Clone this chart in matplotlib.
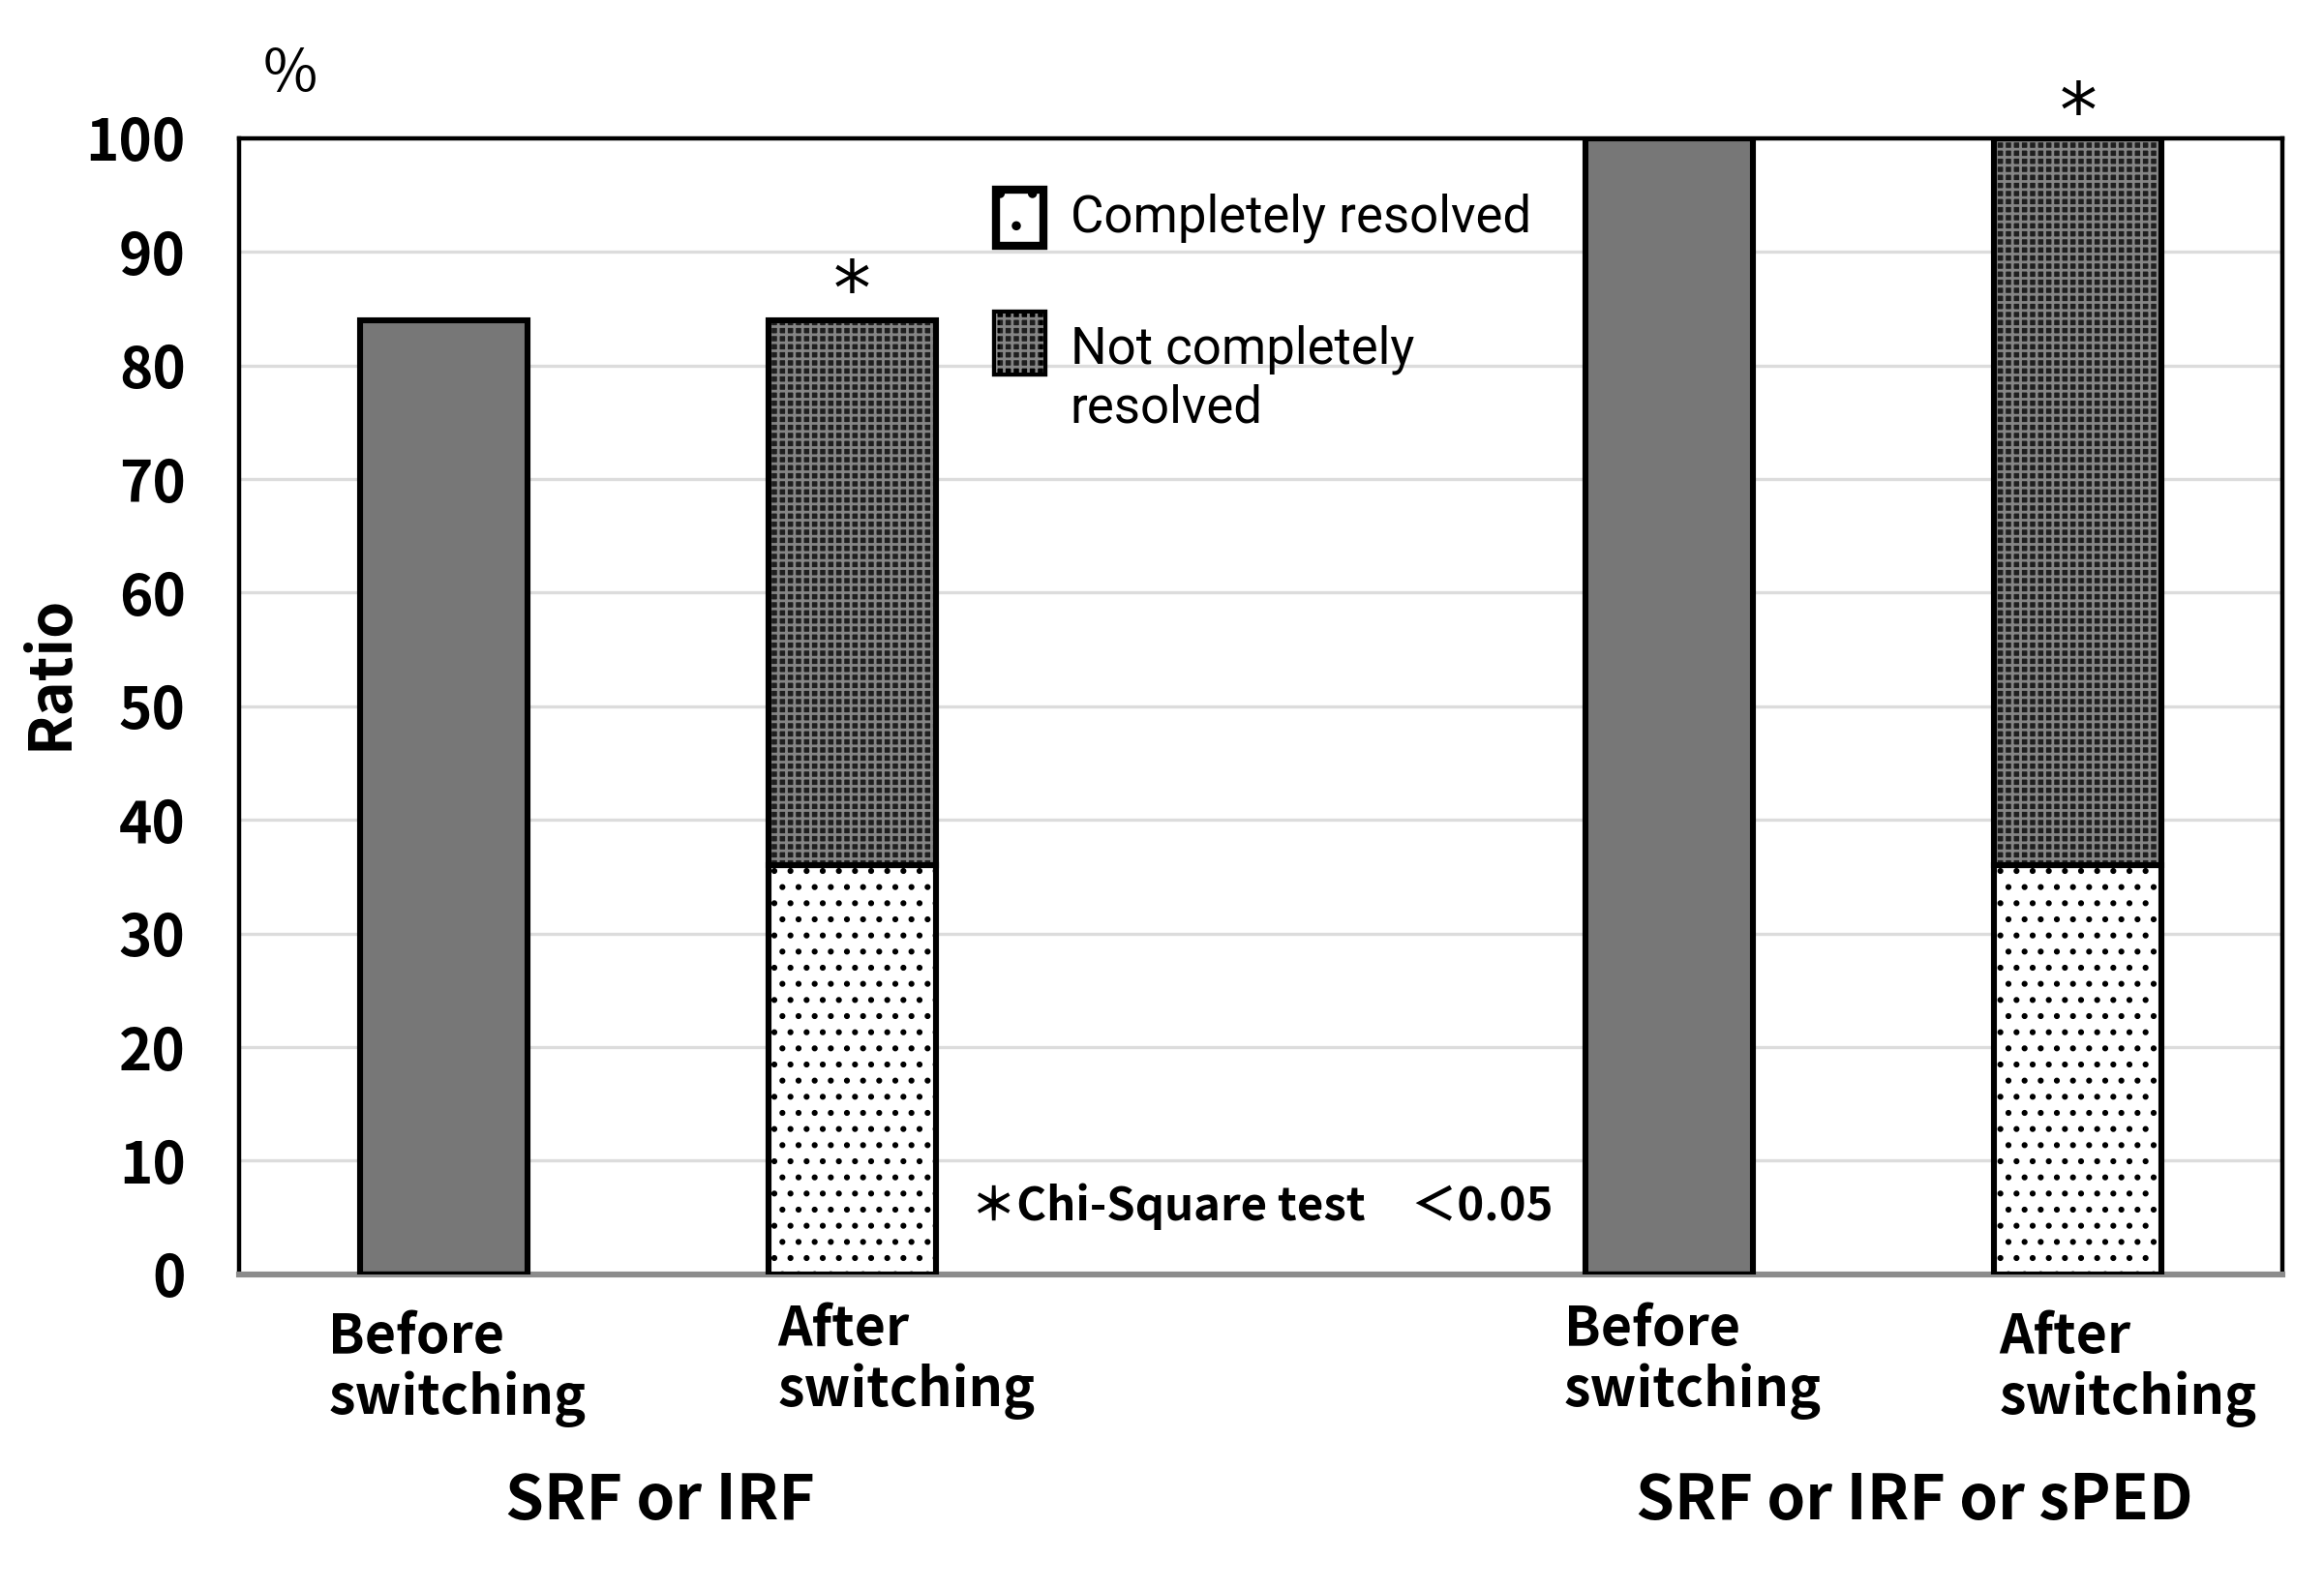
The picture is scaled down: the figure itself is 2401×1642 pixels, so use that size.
import numpy as np
import matplotlib.pyplot as plt
from matplotlib.patches import Rectangle
from matplotlib.transforms import ScaledTranslation
from matplotlib import font_manager

plt.rcParams['font.family'] = ['Noto Sans CJK JP', 'DejaVu Sans']
plt.rcParams['hatch.linewidth'] = 1.0

# data
positions = [0, 1, 3, 4]
tick_labels = ['Before\nswitching', 'After\nswitching', 'Before\nswitching', 'After\nswitching']
before_vals = [84, 0, 100, 0]        # before switching (no breakdown)
resolved = [0, 36, 0, 36]            # completely resolved
not_resolved = [0, 48, 0, 64]        # not completely resolved
groups = ['SRF or IRF', 'SRF or IRF or sPED']
group_pos = [0.53, 3.6]
star_bars = [1, 4]
star_y = [86.4, 102.0]
legend_labels = ['Completely resolved', 'Not completely\nresolved']

# narrow font for legend if there is one
try:
    font_manager.findfont('Liberation Sans Narrow', fallback_to_default=False)
    leg_font = ['Liberation Sans Narrow']
    leg_size = 21
except Exception:
    leg_font = ['Roboto', 'DejaVu Sans']
    leg_size = 19

fig = plt.figure(figsize=(12.005, 8.21), dpi=200)
ax = fig.add_axes([0.103, 0.198, 0.879, 0.715])

w = 0.41
lw = 2.2
pos = np.array(positions)
light_hatch = '..'
dark_fill = '#1f1f1f'
dark_hatch_col = '#858585'

# before bars: plain gray
ax.bar(pos, before_vals, w, color='#777777', edgecolor='black', linewidth=lw, zorder=3)

# completely resolved: white with small dots
ax.bar(pos, resolved, w, color='white', edgecolor='black', hatch=light_hatch, linewidth=0, zorder=3)
ax.bar(pos, resolved, w, color='none', edgecolor='black', linewidth=lw, zorder=4)

# not completely resolved: dark with dense light grid
ax.bar(pos, not_resolved, w, bottom=resolved, color=dark_fill, edgecolor=dark_hatch_col,
       hatch='++++', linewidth=0, zorder=3)
ax.bar(pos, not_resolved, w, bottom=resolved, color='none', edgecolor='black', linewidth=lw, zorder=4)

ax.set_xlim(-0.5, 4.5)
ax.set_ylim(0, 100)
ax.set_yticks(np.arange(0, 101, 10))
ax.yaxis.grid(True, color='#dcdcdc', linewidth=1.2, zorder=0)
ax.set_axisbelow(True)
ax.tick_params(axis='y', length=0, labelsize=21, pad=20)
for lab in ax.get_yticklabels():
    lab.set_fontweight('bold')

ax.set_xticks(pos)
ax.set_xticklabels(tick_labels, fontsize=20, fontweight='bold', multialignment='left',
                   linespacing=1.15)
ax.tick_params(axis='x', length=0, pad=12)
# labels sit a bit right of the bar centres in the original
shifts = [(0.07, -0.02), (0.28, 0.02), (0.12, 0.02), (0.26, -0.02)]
for lab, (dx, dy) in zip(ax.get_xticklabels(), shifts):
    lab.set_transform(lab.get_transform() + ScaledTranslation(dx, dy, fig.dpi_scale_trans))

for s in ['top', 'left', 'right']:
    ax.spines[s].set_color('black')
    ax.spines[s].set_linewidth(1.6)
ax.spines['bottom'].set_color('#8c8c8c')
ax.spines['bottom'].set_linewidth(2.2)

ax.set_ylabel('Ratio', fontsize=22, fontweight='bold')
ax.yaxis.set_label_coords(-0.078, 0.53)
ax.text(0.025, 1.03, '%', transform=ax.transAxes, fontsize=22,
        ha='center', va='bottom')

# group labels
for g, gp in zip(groups, group_pos):
    ax.text(gp, -0.20, g, transform=ax.get_xaxis_transform(), ha='center', va='center',
            fontsize=23, fontweight='bold')

# significance stars
for b, sy in zip(star_bars, star_y):
    ax.text(b, sy, '*', ha='center', va='center', fontsize=28, clip_on=False,
            fontfamily='DejaVu Sans')

ax.text(1.29, 6, '＊Chi-Square test\u3000＜0.05', ha='left', va='center', fontsize=17,
        fontweight='bold')

# legend drawn by hand in axes coordinates
box_x, box_w, box_h = 0.3706, 0.0232, 0.05
ax.add_patch(Rectangle((box_x, 0.905), box_w, box_h, transform=ax.transAxes,
                       facecolor='white', edgecolor='black', hatch='.', linewidth=3, zorder=5))
ax.add_patch(Rectangle((box_x, 0.794), box_w, 0.052, transform=ax.transAxes,
                       facecolor=dark_fill, edgecolor='black', linewidth=3, zorder=5))
ax.add_patch(Rectangle((box_x, 0.794), box_w, 0.052, transform=ax.transAxes,
                       facecolor='none', edgecolor=dark_hatch_col, hatch='++++', linewidth=0, zorder=5))
ax.text(0.4068, 0.930, legend_labels[0], transform=ax.transAxes, ha='left', va='center',
        fontsize=leg_size, family=leg_font)
ax.text(0.4068, 0.788, legend_labels[1], transform=ax.transAxes, ha='left', va='center',
        fontsize=leg_size, family=leg_font, linespacing=1.25)

fig.savefig('out.png', dpi=200)
